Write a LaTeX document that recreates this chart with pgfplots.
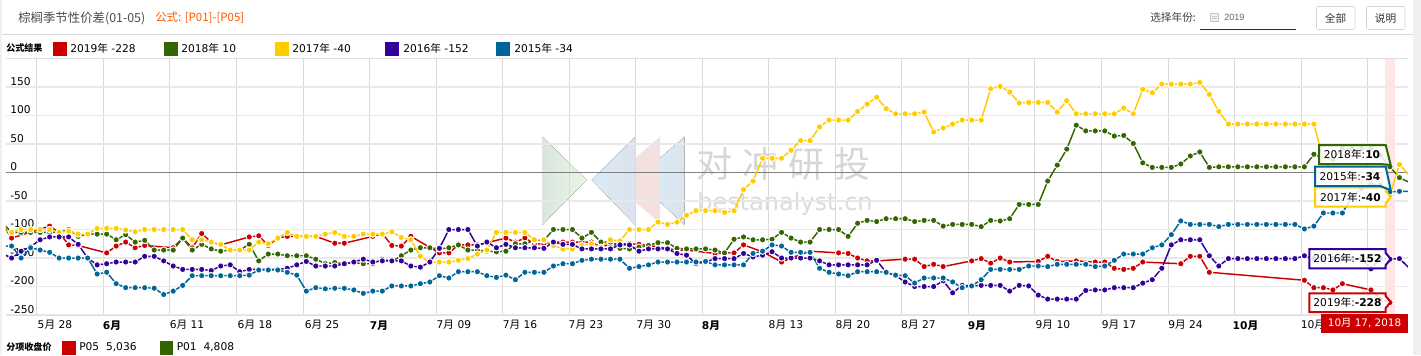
\documentclass[border=0pt]{standalone}
\usepackage{fontspec}
\usepackage{pgfplots}
\pgfplotsset{compat=1.18}
\setmainfont{DejaVu Sans}
\newfontfamily\cjk{Noto Sans CJK SC}
\newfontfamily\lib{Liberation Sans}
\definecolor{cR}{HTML}{CC0000}
\definecolor{cG}{HTML}{336600}
\definecolor{cY}{HTML}{FFCC00}
\definecolor{cP}{HTML}{330099}
\definecolor{cB}{HTML}{006699}
\definecolor{wGa}{HTML}{D9E6DF}
\definecolor{wGb}{HTML}{EAF6E2}
\definecolor{wBa}{HTML}{D9EAF5}
\definecolor{wBb}{HTML}{DCE3EC}
\definecolor{wP}{HTML}{F5E0E0}
\newcommand\yue{{\cjk 月}}
\newcommand\nian{{\cjk 年}}
\newcommand\fs{\fontsize{8pt}{9pt}\selectfont}
\newcommand\callout[7]{% x0 y0 y1 tipy colour text num
  \draw[#5,line width=1.5pt,fill=white,fill opacity=0.85,draw opacity=1,line join=miter]
    (#1,#2) -- (1385.7,#2) -- (1385.7,{#4-6}) -- (1390.7,#4) -- (1385.7,{#4+6}) -- (1385.7,#3) -- (#1,#3) -- cycle;
  \node[inner sep=0,font=\fs] at ({(#1+1385.7)/2},{(#2+#3)/2}) {#6\nian:\textbf{#7}};
}
\pgfplotsset{ser/.style={line width=1.1pt,mark=*,mark size=2.4pt,mark options={solid,fill=#1,draw=white,line width=0.7pt},color=#1}}
\begin{document}
\begin{tikzpicture}
\begin{scope}[x=0.75pt,y=-0.75pt]
\useasboundingbox (0,0) rectangle (1421,355);
\fill[white] (0,0) rectangle (1421,355);
\fill[gray!12] (0,0) rectangle (2,355);
\fill[gray!12] (1413,0) rectangle (1421,355);
% watermark
\fill[left color=wGa,right color=wGb] (542.3,136.7) -- (586.7,180) -- (542.3,225) -- cycle;
\fill[left color=wBa,right color=wBb] (635.3,136.7) -- (591.7,180) -- (635.3,225) -- cycle;
\fill[wP] (660,136.7) -- (635.3,158) -- (635.3,202) -- (660,223) -- cycle;
\fill[left color=wBa,right color=wBb] (684.7,136.7) -- (660,158) -- (660,202) -- (684.7,225) -- cycle;
\node[anchor=west,inner sep=0,text=gray!32,font=\cjk\fontsize{27pt}{27pt}\selectfont] at (696,164) {对\;冲\;研\;投};
\node[anchor=west,inner sep=0,text=gray!28,font=\fontsize{18pt}{20pt}\selectfont] at (697,204) {bestanalyst.cn};
% header
\draw[gray!30] (2,34) -- (1413,34);
\node[anchor=west,inner sep=0,text=black!70,font=\cjk\fontsize{9.3pt}{11pt}\selectfont] at (18,18) {棕榈季节性价差(01-05)};
\node[anchor=west,inner sep=0,text=orange!70!red,font=\cjk\fontsize{8.6pt}{11pt}\selectfont] at (155,18) {公式: [P01]-[P05]};
\node[anchor=west,inner sep=0,text=black!75,font=\cjk\fontsize{8pt}{10pt}\selectfont] at (1150,17) {选择年份:};
\draw[gray!45,fill=gray!10] (1210,13) rectangle (1218,21);
\draw[gray!45] (1211.5,16) -- (1216.5,16) (1211.5,18.5) -- (1216.5,18.5);
\node[anchor=west,inner sep=0,text=black!60,font=\lib\fontsize{6.8pt}{8pt}\selectfont] at (1224,17) {2019};
\draw[red!60!black,line width=0.75pt] (1200,29.3) -- (1296,29.3);
\draw[blue!20!gray!30,rounded corners=1.5pt] (1316.5,6.5) rectangle (1355,29.5);
\draw[blue!20!gray!30,rounded corners=1.5pt] (1366.5,6.5) rectangle (1405,29.5);
\node[inner sep=0,text=black!80,font=\cjk\fontsize{8pt}{10pt}\selectfont] at (1335.5,18.5) {全部};
\node[inner sep=0,text=black!80,font=\cjk\fontsize{8pt}{10pt}\selectfont] at (1385.5,18.5) {说明};
% top legend
\node[anchor=west,inner sep=0,font=\cjk\bfseries\fontsize{6.8pt}{8pt}\selectfont] at (6,48.5) {公式结果};
\fill[cR] (53,42) rectangle ++(13.5,13.5);
\node[anchor=west,inner sep=0,font=\fs] at (70,48.5) {2019\nian\ -228};
\fill[cG] (164,42) rectangle ++(13.5,13.5);
\node[anchor=west,inner sep=0,font=\fs] at (181,48.5) {2018\nian\ 10};
\fill[cY] (275,42) rectangle ++(13.5,13.5);
\node[anchor=west,inner sep=0,font=\fs] at (292,48.5) {2017\nian\ -40};
\fill[cP] (385,42) rectangle ++(13.5,13.5);
\node[anchor=west,inner sep=0,font=\fs] at (403,48.5) {2016\nian\ -152};
\fill[cB] (496,42) rectangle ++(13.5,13.5);
\node[anchor=west,inner sep=0,font=\fs] at (514,48.5) {2015\nian\ -34};
% bottom legend
\node[anchor=west,inner sep=0,font=\cjk\bfseries\fontsize{6.8pt}{8pt}\selectfont] at (6,347.5) {分项收盘价};
\fill[cR] (62,341) rectangle ++(13.5,13.5);
\node[anchor=west,inner sep=0,font=\fs] at (79,347.5) {P05\ \ 5,036};
\fill[cG] (159.5,341) rectangle ++(13.5,13.5);
\node[anchor=west,inner sep=0,font=\fs] at (176.5,347.5) {P01\ \ 4,808};
\end{scope}
\begin{axis}[
  at={(4.5pt,-236.7pt)},anchor=south west,
  scale only axis,width=1051.5pt,height=192.825pt,
  xmin=0.41,xmax=147.9,ymin=-251,ymax=200,
  axis line style={draw=none},
  major tick length=0pt,minor tick length=0pt,
  ytick={-250,-200,-150,-100,-50,0,50,100,150},
  yticklabels={-250,-200,-150,-100,-50,0,50,100,150},
  ymajorgrids,
  y grid style={gray!18,line width=0.9pt},
  yticklabel style={anchor=west,inner sep=0pt,xshift=3pt,yshift=4.3pt,font=\fs},
  xtick={5.56,11.56,19.45,26.6,33.65,39.64,47.53,54.48,61.42,68.57,74.57,82.46,89.5,96.4,102.55,110.54,117.5,124.5,130.8,137.9},
  xticklabels={5\yue\ 28,\textbf{6\yue},6\yue\ 11,6\yue\ 18,6\yue\ 25,\textbf{7\yue},7\yue\ 09,7\yue\ 16,7\yue\ 23,7\yue\ 30,\textbf{8\yue},8\yue\ 13,8\yue\ 20,8\yue\ 27,\textbf{9\yue},9\yue\ 10,9\yue\ 17,9\yue\ 24,\textbf{10\yue},10\yue},
  xticklabel style={font=\fs,inner sep=0pt,yshift=-3.5pt},
  minor xtick={3.64,10.64,17.64,24.64,31.64,38.64,45.64,52.64,59.64,66.64,73.64,80.64,87.64,94.64,101.64,108.64,115.64,122.64,129.64,136.64,143.64},
  xminorgrids,minor x grid style={gray!30,line width=0.5pt},
]
\fill[red!10] (axis cs:145.5,-251) rectangle (axis cs:146.5,200);
\draw[gray!25,line width=0.5pt] (axis cs:0.41,200) -- (axis cs:147.9,200);
\draw[gray!25,line width=0.8pt] (axis cs:0.41,-251) -- (axis cs:147.9,-251);
\draw[gray,line width=0.6pt] (axis cs:0.41,0) -- (axis cs:147.9,0);
% 2019
\addplot[ser=cR] coordinates {(0,-90)(1,-115)(5,-94)(6,-105)(7,-127)(8,-128)(11,-141)(12,-129)(13,-122)(14,-132)(15,-128)(18,-132)(19,-115)(20,-132)(21,-107)(22,-122)(23,-127)(26,-113)(27,-111)(28,-128)(29,-115)(30,-112)(33,-112)(35,-124)(36,-124)(39,-112)(40,-107)(41,-128)(42,-129)(43,-112)(46,-141)(47,-141)(48,-127)(49,-127)(50,-127)(53,-115)(54,-122)(55,-115)(56,-125)(57,-125)(58,-122)(59,-122)(60,-122)(61,-122)(62,-122)(63,-131)(64,-125)(65,-125)(66,-125)(67,-126)(68,-128)(71,-136)(72,-136)(75,-142)(76,-141)(77,-141)(78,-127)(80,-139)(82,-157)(83,-150)(85,-138)(88,-141)(89,-142)(90,-150)(91,-155)(92,-155)(95,-152)(96,-152)(97,-165)(98,-161)(99,-165)(102,-155)(103,-151)(104,-159)(105,-150)(106,-157)(109,-156)(110,-147)(111,-156)(113,-155)(115,-157)(116,-157)(117,-168)(118,-170)(119,-168)(120,-157)(124,-160)(125,-147)(126,-147)(127,-175)(137,-189)(138,-202)(139,-202)(140,-206)(141,-195)(144,-206)(145,-222)(146,-228)};
% 2018
\addplot[ser=cG] coordinates {(0,-88)(1,-105)(2,-105)(3,-105)(4,-105)(5,-105)(6,-105)(7,-100)(8,-112)(9,-108)(10,-108)(11,-108)(12,-118)(13,-109)(14,-122)(15,-119)(16,-136)(17,-136)(18,-136)(19,-115)(20,-136)(21,-126)(22,-134)(23,-138)(24,-136)(25,-136)(26,-126)(27,-155)(28,-143)(29,-143)(30,-146)(31,-146)(32,-146)(33,-152)(34,-160)(35,-158)(36,-160)(37,-158)(38,-160)(39,-160)(40,-152)(41,-156)(42,-146)(43,-136)(44,-132)(45,-132)(46,-134)(47,-132)(48,-127)(49,-136)(50,-136)(51,-138)(52,-139)(53,-138)(54,-125)(55,-125)(56,-119)(57,-119)(58,-100)(59,-100)(60,-100)(61,-115)(62,-105)(63,-122)(64,-122)(65,-133)(66,-134)(67,-131)(68,-128)(69,-123)(70,-123)(71,-133)(72,-134)(73,-134)(74,-134)(75,-136)(76,-141)(77,-117)(78,-113)(79,-118)(80,-118)(81,-117)(82,-105)(83,-115)(84,-122)(85,-122)(86,-100)(87,-100)(88,-100)(89,-112)(90,-89)(91,-84)(92,-86)(93,-81)(94,-81)(95,-81)(96,-86)(97,-84)(98,-84)(99,-94)(100,-91)(101,-91)(102,-91)(103,-95)(104,-84)(105,-85)(106,-81)(107,-56)(108,-56)(109,-56)(110,-15)(111,13)(112,41)(113,83)(114,73)(115,73)(116,73)(117,64)(118,65)(119,51)(120,17)(121,9)(122,9)(123,9)(124,15)(125,29)(126,36)(127,9)(128,10)(129,10)(130,10)(131,10)(132,10)(133,10)(134,10)(135,10)(136,10)(137,10)(138,32)(139,25)(140,23)(141,42)(142,42)(143,42)(144,42)(145,30)(146,10)(147,-9)(148,-17)};
% 2017
\addplot[ser=cY] coordinates {(0,-100)(1,-105)(2,-100)(3,-100)(4,-100)(5,-100)(6,-105)(7,-103)(8,-108)(9,-108)(10,-98)(11,-98)(12,-98)(13,-101)(14,-104)(15,-100)(16,-100)(17,-100)(18,-100)(19,-100)(20,-118)(21,-118)(22,-122)(23,-126)(24,-136)(25,-136)(26,-136)(27,-122)(28,-125)(29,-115)(30,-105)(31,-112)(32,-112)(33,-112)(34,-108)(35,-105)(36,-112)(37,-112)(38,-108)(39,-108)(40,-108)(41,-104)(42,-114)(43,-118)(44,-147)(45,-158)(46,-157)(47,-157)(48,-154)(49,-151)(50,-143)(51,-136)(52,-105)(53,-105)(54,-105)(55,-105)(56,-118)(57,-118)(58,-128)(59,-134)(60,-134)(61,-128)(62,-125)(63,-131)(64,-118)(65,-120)(66,-100)(67,-100)(68,-100)(69,-87)(70,-91)(71,-87)(72,-75)(73,-67)(74,-67)(75,-67)(76,-70)(77,-67)(78,-30)(79,-15)(80,25)(81,25)(82,25)(83,39)(84,56)(85,56)(86,80)(87,92)(88,92)(89,92)(90,107)(91,120)(92,132)(93,112)(94,103)(95,103)(96,103)(97,106)(98,71)(99,78)(100,85)(101,92)(102,92)(103,92)(104,147)(105,151)(106,141)(107,122)(108,123)(109,123)(110,123)(111,106)(112,126)(113,103)(114,103)(115,103)(116,103)(117,103)(118,113)(119,103)(120,146)(121,140)(122,155)(123,155)(124,155)(125,155)(126,158)(127,137)(128,107)(129,85)(130,85)(131,85)(132,85)(133,85)(134,85)(135,85)(136,85)(137,85)(138,85)(139,22)(140,0)(141,-15)(142,-15)(143,-16)(144,-16)(145,-16)(146,-40)(147,14)(148,-4)};
% 2016
\addplot[ser=cP] coordinates {(0,-142)(1,-150)(2,-138)(3,-130)(4,-118)(5,-113)(6,-113)(7,-113)(8,-126)(9,-150)(10,-162)(11,-160)(12,-157)(13,-157)(14,-157)(15,-147)(16,-147)(17,-155)(18,-164)(19,-170)(20,-170)(21,-170)(22,-172)(23,-164)(24,-162)(25,-174)(26,-170)(27,-170)(28,-170)(29,-170)(30,-168)(31,-162)(32,-156)(33,-164)(34,-164)(35,-164)(36,-160)(37,-157)(38,-152)(39,-157)(40,-155)(41,-155)(42,-155)(43,-164)(44,-166)(45,-157)(46,-133)(47,-100)(48,-100)(49,-100)(50,-129)(51,-122)(52,-132)(53,-126)(54,-132)(55,-132)(56,-132)(57,-133)(58,-122)(59,-126)(60,-126)(61,-134)(62,-134)(63,-134)(64,-134)(65,-127)(66,-127)(67,-138)(68,-134)(69,-134)(70,-134)(71,-142)(72,-145)(73,-160)(74,-157)(75,-151)(76,-151)(77,-151)(78,-142)(79,-148)(80,-145)(81,-139)(82,-150)(83,-150)(84,-150)(85,-150)(86,-155)(87,-162)(88,-162)(89,-162)(90,-162)(91,-162)(92,-154)(93,-175)(94,-181)(95,-192)(96,-200)(97,-200)(98,-200)(99,-190)(100,-211)(101,-198)(102,-199)(103,-198)(104,-198)(105,-198)(106,-208)(107,-198)(108,-199)(109,-215)(110,-222)(111,-222)(112,-222)(113,-222)(114,-207)(115,-206)(116,-206)(117,-202)(118,-202)(119,-202)(120,-194)(121,-188)(122,-168)(123,-127)(124,-118)(125,-118)(126,-118)(127,-146)(128,-164)(129,-151)(130,-151)(131,-151)(132,-151)(133,-151)(134,-151)(135,-151)(136,-151)(137,-146)(138,-151)(139,-151)(140,-151)(141,-151)(142,-151)(143,-151)(144,-169)(145,-151)(146,-152)(147,-151)(148,-167)};
% 2015
\addplot[ser=cB] coordinates {(0,-129)(1,-129)(2,-150)(3,-132)(4,-136)(5,-140)(6,-150)(7,-150)(8,-150)(9,-150)(10,-178)(11,-175)(12,-195)(13,-202)(14,-202)(15,-202)(16,-203)(17,-214)(18,-208)(19,-198)(20,-181)(21,-181)(22,-181)(23,-181)(24,-181)(25,-181)(26,-180)(27,-171)(28,-171)(29,-171)(30,-175)(31,-180)(32,-208)(33,-202)(34,-204)(35,-203)(36,-203)(37,-206)(38,-212)(39,-208)(40,-208)(41,-199)(42,-199)(43,-199)(44,-195)(45,-192)(46,-181)(47,-185)(48,-174)(49,-174)(50,-174)(51,-181)(52,-184)(53,-180)(54,-188)(55,-175)(56,-175)(57,-175)(58,-164)(59,-160)(60,-160)(61,-154)(62,-152)(63,-152)(64,-152)(65,-152)(66,-168)(67,-165)(68,-162)(69,-157)(70,-157)(71,-157)(72,-157)(73,-157)(74,-156)(75,-162)(76,-162)(77,-162)(78,-162)(79,-142)(80,-138)(81,-127)(82,-129)(83,-140)(84,-140)(85,-140)(86,-168)(87,-175)(88,-178)(89,-181)(90,-174)(91,-174)(92,-174)(93,-175)(94,-180)(95,-181)(96,-194)(97,-185)(98,-185)(99,-185)(100,-192)(101,-202)(102,-199)(103,-188)(104,-170)(105,-170)(106,-170)(107,-170)(108,-164)(109,-164)(110,-165)(111,-161)(112,-161)(113,-161)(114,-161)(115,-165)(116,-164)(117,-154)(118,-143)(119,-143)(120,-143)(121,-132)(122,-127)(123,-109)(124,-85)(125,-91)(126,-91)(127,-91)(128,-95)(129,-91)(130,-91)(131,-91)(132,-91)(133,-91)(134,-91)(135,-91)(136,-91)(137,-99)(138,-94)(139,-71)(140,-71)(141,-71)(142,-43)(143,-28)(144,-21)(145,-22)(146,-34)(147,-33)(148,-33)};
\end{axis}
% callouts
\begin{scope}[x=0.75pt,y=-0.75pt]
\callout{1309.3}{293.3}{312}{302}{cR}{2019}{-228}
\callout{1309.3}{249}{268.3}{259}{cP}{2016}{-152}
\callout{1315}{187.3}{206.7}{197}{cY}{2017}{-40}
\draw[cB,line width=1.5pt,fill=white,fill opacity=0.85,draw opacity=1] (1315,166.7) -- (1385.7,166.7) -- (1390.7,190) -- (1380,186) -- (1315,186) -- cycle;
\node[inner sep=0,font=\fs] at (1350,176.5) {2015\nian:\textbf{-34}};
\draw[cG,line width=1.5pt,fill=white,fill opacity=0.85,draw opacity=1] (1319,145) -- (1385.7,145) -- (1390.7,165) -- (1380,164) -- (1319,164) -- cycle;
\node[inner sep=0,font=\fs] at (1352,154) {2018\nian:\textbf{10}};
\fill[cR] (1321,314.3) rectangle (1407.7,333.3);
\node[inner sep=0,text=white,font=\fontsize{7.8pt}{9pt}\selectfont] at (1364.5,323.5) {10\yue\ 17, 2018};
\end{scope}
\end{tikzpicture}
\end{document}
